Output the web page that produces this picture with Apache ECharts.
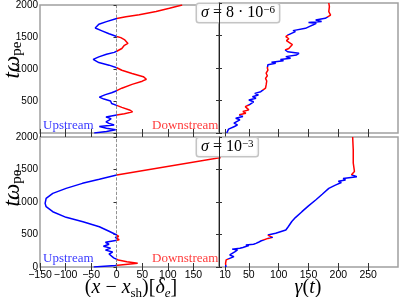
<!DOCTYPE html>
<html><head><meta charset="utf-8">
<script src="https://cdn.jsdelivr.net/npm/echarts@6/dist/echarts.min.js"></script>
<style>html,body{margin:0;padding:0;background:#fff}#c{width:407px;height:297px}</style>
</head><body><div id="c"></div>
<script>
// ---- data: sigma = 8e-6 (top row) ----
const tTop = [0, 25, 50, 75, 100, 125, 150, 175, 200, 225, 250, 280, 300, 330, 360, 400, 431, 460, 500, 530, 560, 600, 630, 661, 700, 760, 810, 840, 880, 930, 980, 1020, 1060, 1100, 1150, 1190, 1230, 1260, 1277, 1320, 1370, 1400, 1431, 1460, 1490, 1508, 1550, 1600, 1640, 1670, 1700, 1740, 1790, 1815, 1846, 1897, 1949, 2000];
const xTop = [-44, -20, -2, -20, -34, -5, -15, -21, -15, -11, -21, 0, 15, 31, 25, 10, 0, -10, -12, -25, -34, -22, -10, 0, 10, 30, 50, 58, 52, 30, 10, 0, -15, -35, -46, -35, -20, -5, 0, 10, 15, 22, 25, 15, 8, 0, -15, -30, -42, -44, -35, -20, 0, 18, 44, 77, 103, 128];
const tGamTop = [0, 20, 60, 100, 126, 151, 177, 203, 228, 254, 280, 305, 330, 356, 380, 405, 430, 456, 480, 508, 535, 559, 585, 610, 635, 662, 690, 713, 740, 764, 800, 840, 880, 920, 969, 1000, 1020, 1050, 1072, 1090, 1110, 1130, 1150, 1175, 1200, 1226, 1250, 1277, 1300, 1328, 1360, 1390, 1420, 1450, 1482, 1510, 1533, 1560, 1575, 1610, 1640, 1665, 1687, 1700, 1715, 1738, 1765, 1790, 1815, 1841, 1866, 1892, 1944, 2000];
const gamTop = [13, 14, 16, 26, 31, 25, 23, 35, 28, 40, 34, 45, 40, 50, 47, 44, 50, 48, 58, 50, 62, 56, 66, 60, 70, 73, 78, 75, 79, 77, 80, 78, 81, 79, 82, 81, 84, 82, 95, 88, 108, 103, 120, 112, 130, 134, 115, 111, 117, 118, 123, 120, 113, 117, 112, 116, 114, 128, 124, 145, 152, 158, 163, 150, 172, 162, 178, 181, 187, 190, 184, 186, 185, 184];
// ---- data: sigma = 1e-3 (bottom row) ----
const tBot = [0, 22, 35, 57, 80, 108, 125, 140, 170, 200, 230, 260, 290, 320, 350, 380, 405, 420, 440, 455, 470, 492, 550, 620, 697, 764, 851, 928, 979, 1056, 1133, 1210, 1287, 1349, 1415, 1800];
const xBot = [-45, -3, 12, 41, 20, 3, 1, -6, -3, -15, -8, -22, -12, -26, -15, -22, -5, 5, 3, -3, 4, 0, -15, -34, -66, -99, -125, -138, -140, -138, -125, -99, -67, -34, 0, 290];
const tGamBot = [0, 56, 82, 110, 133, 159, 185, 210, 236, 262, 275, 287, 300, 313, 330, 338, 350, 364, 380, 400, 415, 440, 456, 470, 492, 518, 569, 620, 700, 760, 851, 940, 1031, 1120, 1210, 1260, 1300, 1320, 1340, 1360, 1390, 1420, 1441, 1470, 1492, 1600, 1800, 2000];
const gamBot = [11.7, 11, 10, 12, 14, 25, 18, 17, 27, 31, 22, 35, 40, 38, 50, 45, 58, 62, 66, 70, 72, 82, 90, 86, 82, 95, 112, 116, 122, 128, 139, 150, 162, 173, 184, 195, 205, 200, 212, 208, 231, 222, 223, 227, 226, 225, 225, 224];
// ---- ticks ----
const yTicks = [0, 500, 1000, 1500, 2000];
const xTicksLeft = [-150, -100, -50, 0, 50, 100, 150];
const xTicksRight = [10, 50, 100, 150, 200, 250];

const BLUE = '#0000ff', RED = '#ff0000';
const zip = (a, b) => a.map((v, i) => [b[i], v]);

function timePieces(t, x) {
  const cuts = [];
  for (let i = 1; i < t.length; i++) {
    const a = x[i - 1] < 0, b = x[i] < 0;
    if (a !== b) {
      const tc = t[i - 1] + (0 - x[i - 1]) * (t[i] - t[i - 1]) / (x[i] - x[i - 1]);
      cuts.push(tc);
    }
  }
  const pieces = [];
  let neg = x[0] < 0, start = -1000;
  cuts.concat([5000]).forEach(c => {
    pieces.push({ gte: start, lt: c, color: neg ? BLUE : RED });
    neg = !neg; start = c;
  });
  return pieces;
}

const sans = 'Liberation Sans';
const serif = 'Liberation Serif';
const grids = [
  { left: 40, top: 3, width: 179, height: 130 },
  { left: 219, top: 3, width: 179, height: 130 },
  { left: 40, top: 137, width: 179, height: 130 },
  { left: 219, top: 137, width: 179, height: 130 }
].map(g => Object.assign(g, { show: true, borderColor: '#a0a0a0', borderWidth: 1.5, backgroundColor: 'transparent' }));

const tickStyle = { color: '#333', width: 1 };
function xAx(grid, left, pos, labels) {
  const ticks = left ? xTicksLeft : xTicksRight;
  return {
    type: 'value', gridIndex: grid, position: pos,
    min: left ? -150 : 0, max: left ? 200 : 300,
    splitLine: { show: false },
    axisLine: { show: false },
    axisTick: { show: true, inside: true, length: 4, lineStyle: tickStyle, customValues: ticks },
    axisLabel: { show: labels, customValues: ticks, margin: 3, color: '#000', fontFamily: sans, fontSize: 10.5,
      formatter: v => (v < 0 ? '\u2212' + (-v) : '' + v) }
  };
}
function yAx(grid, pos, labels, hideZero, dark, tickInside) {
  return {
    type: 'value', gridIndex: grid, position: pos, min: 0, max: 2000,
    z: dark ? 10 : 0,
    splitLine: { show: false },
    axisLine: { show: !!dark, lineStyle: { color: '#222', width: 1 } },
    axisTick: { show: true, inside: tickInside, length: 3, lineStyle: tickStyle, customValues: yTicks },
    axisLabel: { show: labels, customValues: hideZero ? yTicks.slice(1) : yTicks, margin: 2, color: '#000', fontFamily: sans, fontSize: 10,
      formatter: v => '' + v }
  };
}

const xAxis = [
  xAx(0, true, 'bottom', false), xAx(0, true, 'top', false),
  xAx(1, false, 'bottom', false), xAx(1, false, 'top', false),
  xAx(2, true, 'bottom', true), xAx(2, true, 'top', false),
  xAx(3, false, 'bottom', true), xAx(3, false, 'top', false)
];
const yAxis = [
  yAx(0, 'left', true, true, false, false), yAx(0, 'right', false, false, false, true),
  yAx(1, 'left', false, false, true, true), yAx(1, 'right', false, false, false, true),
  yAx(2, 'left', true, false, false, false), yAx(2, 'right', false, false, false, true),
  yAx(3, 'left', false, false, true, true), yAx(3, 'right', false, false, false, true)
];

const zeroLine = {
  silent: true, symbol: 'none', animation: false,
  label: { show: false },
  lineStyle: { type: 'dashed', color: '#777', width: 0.8 },
  data: [{ xAxis: 0 }]
};
const lineBase = { type: 'line', showSymbol: false, symbol: 'none', lineStyle: { width: 1.5 }, clip: true, z: 3 };
const series = [
  Object.assign({}, lineBase, { xAxisIndex: 0, yAxisIndex: 0, data: zip(tTop, xTop), markLine: zeroLine }),
  Object.assign({}, lineBase, { xAxisIndex: 2, yAxisIndex: 2, data: zip(tGamTop, gamTop) }),
  Object.assign({}, lineBase, { xAxisIndex: 4, yAxisIndex: 4, data: zip(tBot, xBot), markLine: zeroLine }),
  Object.assign({}, lineBase, { xAxisIndex: 6, yAxisIndex: 6, data: zip(tGamBot, gamBot) })
];
const signPieces = [{ gte: -1000, lt: 0, color: BLUE }, { gte: 0, lt: 1000, color: RED }];
const visualMap = [
  { type: 'piecewise', show: false, seriesIndex: 0, dimension: 0, pieces: signPieces },
  { type: 'piecewise', show: false, seriesIndex: 2, dimension: 0, pieces: signPieces },
  { type: 'piecewise', show: false, seriesIndex: 1, dimension: 1, pieces: timePieces(tTop, xTop) },
  { type: 'piecewise', show: false, seriesIndex: 3, dimension: 1, pieces: timePieces(tBot, xBot) }
];

const mathRich = {
  i: { fontFamily: serif, fontStyle: 'italic', fontSize: 20, lineHeight: 20, verticalAlign: 'top', color: '#000' },
  p: { fontFamily: serif, fontSize: 20, lineHeight: 20, verticalAlign: 'top', color: '#000' },
  s: { fontFamily: serif, fontSize: 13, lineHeight: 13, padding: [9, 0, 0, 0], verticalAlign: 'top', color: '#000' },
  si: { fontFamily: serif, fontStyle: 'italic', fontSize: 13, lineHeight: 13, padding: [9, 0, 0, 0], verticalAlign: 'top', color: '#000' }
};
const yRich = {
  i: { fontFamily: serif, fontStyle: 'italic', fontSize: 23, lineHeight: 22, verticalAlign: 'top', color: '#000' },
  s: { fontFamily: serif, fontSize: 15, lineHeight: 15, padding: [9, 0, 0, 0], verticalAlign: 'top', color: '#000' }
};
const sigRich = {
  i: { fontFamily: serif, fontStyle: 'italic', fontSize: 16, lineHeight: 17, verticalAlign: 'top', color: '#000' },
  p: { fontFamily: serif, fontSize: 16, lineHeight: 17, verticalAlign: 'top', color: '#000' },
  sup: { fontFamily: serif, fontSize: 11, lineHeight: 11, verticalAlign: 'top', color: '#000' }
};
function ytitle(cy) {
  return { type: 'text', x: 12, y: cy, rotation: Math.PI / 2, z: 20,
    style: { text: '{i|tω}{s|pe}', rich: yRich, align: 'center', verticalAlign: 'middle' } };
}
function note(txt, x, y, color) {
  return { type: 'text', x: x, y: y, z: 20, style: { text: txt, fill: color, font: '13px "Liberation Serif"', verticalAlign: 'middle' } };
}
function sigBox(txt, x, y) {
  return { type: 'text', x: x, y: y, z: 5,
    style: { text: txt, rich: sigRich, backgroundColor: 'rgba(255,255,255,0.9)', borderColor: '#c4c4c4', borderWidth: 1.5, borderRadius: 2, padding: [1, 4, 0, 4] } };
}
const graphic = [
  ytitle(60), ytitle(188),
  { type: 'text', x: 131, y: 288, z: 20, style: { text: '{p|(}{i|x}{p| − }{i|x}{s|sh}{p|)[}{i|δ}{si|e}{p|]}', rich: mathRich, align: 'center', verticalAlign: 'middle' } },
  { type: 'text', x: 308, y: 288, z: 20, style: { text: '{i|γ}{p|(}{i|t}{p|)}', rich: mathRich, align: 'center', verticalAlign: 'middle' } },
  note('Upstream', 43, 126, '#3b3bff'), note('Downstream', 152, 126, '#ff3b3b'),
  note('Upstream', 43, 259, '#3b3bff'), note('Downstream', 152, 259, '#ff3b3b'),
  sigBox('{i|σ}{p| = 8 · 10}{sup|−6}', 197, 4),
  sigBox('{i|σ}{p| = 10}{sup|−3}', 197, 138)
];

const chart = echarts.init(document.getElementById('c'), null, { renderer: 'canvas' });
chart.setOption({ animation: false, backgroundColor: '#fff', grid: grids, xAxis, yAxis, series, visualMap, graphic });
</script></body></html>
